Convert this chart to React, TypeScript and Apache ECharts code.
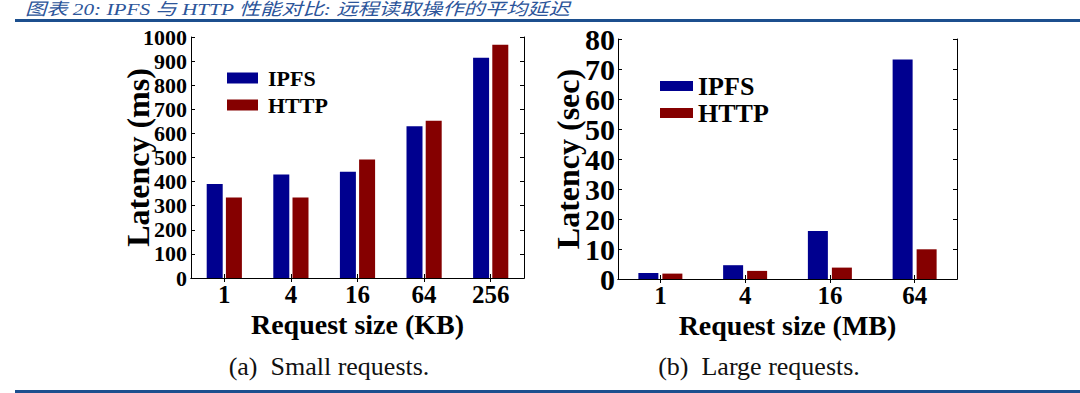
import React, { useEffect, useRef } from "react";
import * as echarts from "echarts";

const categoriesKB = ["1", "4", "16", "64", "256"];
const ipfsSmall = [390, 429, 441, 630, 914];
const httpSmall = [334, 334, 492, 652, 968];

const categoriesMB = ["1", "4", "16", "64"];
const ipfsLarge = [2.0, 4.6, 16.0, 73.2];
const httpLarge = [1.8, 2.7, 3.8, 9.9];

const seriesNames = ["IPFS", "HTTP"];
const titleText = "图表 20: IPFS 与 HTTP 性能对比: 远程读取操作的平均延迟";
const captionA = "(a)  Small requests.";
const captionB = "(b)  Large requests.";

const SERIF = "'Liberation Serif', 'DejaVu Serif', serif";
const IPFS_COLOR = "#00008f";
const HTTP_COLOR = "#850000";
const BLUE_LINE = "#1c4f8e";

function mainX(gridIndex: number, data: string[], name: string) {
  return {
    gridIndex,
    type: "category",
    data,
    position: "bottom",
    axisLine: { show: true, lineStyle: { color: "#000", width: 1 } },
    axisTick: { show: true, inside: true, alignWithLabel: true, length: 4, lineStyle: { color: "#000" } },
    axisLabel: { fontSize: 25, lineHeight: 20, fontWeight: "bold", fontFamily: SERIF, color: "#000", margin: 6 },
    splitLine: { show: false },
    name,
    nameLocation: "middle",
    nameGap: 35,
    nameMoveOverlap: false,
    nameTextStyle: { fontSize: 28, lineHeight: 22, fontWeight: "bold", fontFamily: SERIF, color: "#000" },
  };
}

function topX(gridIndex: number, data: string[]) {
  return {
    gridIndex,
    type: "category",
    data,
    position: "top",
    axisLine: { show: true, lineStyle: { color: "#000", width: 1 } },
    axisTick: { show: true, inside: true, alignWithLabel: true, length: 4, lineStyle: { color: "#000" } },
    axisLabel: { show: false },
    splitLine: { show: false },
  };
}

function mainY(gridIndex: number, max: number, interval: number, name: string, fontSize: number, margin: number, nameGap: number) {
  return {
    gridIndex,
    type: "value",
    position: "left",
    min: 0,
    max,
    interval,
    axisLine: { show: true, lineStyle: { color: "#000", width: 1 } },
    axisTick: { show: true, inside: true, length: 4, lineStyle: { color: "#000" } },
    axisLabel: {
      fontSize,
      fontWeight: "bold",
      fontFamily: SERIF,
      color: "#000",
      margin,
      formatter: (v: number) => String(v),
    },
    splitLine: { show: false },
    name,
    nameLocation: "middle",
    nameGap,
    nameMoveOverlap: false,
    nameTextStyle: { fontSize: 32, lineHeight: 27, fontWeight: "bold", fontFamily: SERIF, color: "#000" },
  };
}

function rightY(gridIndex: number, max: number, interval: number) {
  return {
    gridIndex,
    type: "value",
    position: "right",
    min: 0,
    max,
    interval,
    axisLine: { show: true, lineStyle: { color: "#000", width: 1 } },
    axisTick: { show: true, inside: true, length: 4, lineStyle: { color: "#000" } },
    axisLabel: { show: false },
    splitLine: { show: false },
  };
}

export default function App() {
  const ref = useRef<HTMLDivElement>(null);

  useEffect(() => {
    if (!ref.current) return;
    const chart = echarts.init(ref.current, null, { renderer: "svg" });
    const option = {
      animation: false,
      backgroundColor: "#fff",
      grid: [
        { left: 191, top: 37, width: 333, height: 241 },
        { left: 618, top: 39, width: 339, height: 240 },
      ],
      xAxis: [
        mainX(0, categoriesKB, "Request size (KB)"),
        topX(0, categoriesKB),
        mainX(1, categoriesMB, "Request size (MB)"),
        topX(1, categoriesMB),
      ],
      yAxis: [
        mainY(0, 1000, 100, "Latency (ms)", 22, 4, 40),
        rightY(0, 1000, 100),
        mainY(1, 80, 10, "Latency (sec)", 30, 3, 37),
        rightY(1, 80, 10),
      ],
      legend: [
        {
          data: seriesNames,
          orient: "vertical",
          left: 222,
          top: 62,
          itemWidth: 31,
          itemHeight: 11,
          itemGap: 5,
          icon: "rect",
          selectedMode: false,
          textStyle: { fontSize: 22, lineHeight: 22, fontWeight: "bold", fontFamily: SERIF, color: "#000", padding: [0, 0, 0, 5] },
        },
        {
          data: seriesNames,
          orient: "vertical",
          left: 655,
          top: 68,
          itemWidth: 33,
          itemHeight: 10,
          itemGap: 1,
          icon: "rect",
          selectedMode: false,
          textStyle: { fontSize: 26, lineHeight: 26, fontWeight: "bold", fontFamily: SERIF, color: "#000" },
        },
      ],
      series: [
        { name: seriesNames[0], type: "bar", xAxisIndex: 0, yAxisIndex: 0, data: ipfsSmall, barWidth: 16, barGap: "20%", itemStyle: { color: IPFS_COLOR } },
        { name: seriesNames[1], type: "bar", xAxisIndex: 0, yAxisIndex: 0, data: httpSmall, barWidth: 16, barGap: "20%", itemStyle: { color: HTTP_COLOR } },
        { name: seriesNames[0], type: "bar", xAxisIndex: 2, yAxisIndex: 2, data: ipfsLarge, barWidth: 20, barGap: "20%", itemStyle: { color: IPFS_COLOR } },
        { name: seriesNames[1], type: "bar", xAxisIndex: 2, yAxisIndex: 2, data: httpLarge, barWidth: 20, barGap: "20%", itemStyle: { color: HTTP_COLOR } },
      ],
      graphic: [
        {
          type: "text",
          x: 25,
          y: 1,
          scaleX: 1.25,
          style: {
            text: titleText,
            fontSize: 17,
            fontStyle: "italic",
            fontFamily: "'Liberation Serif', 'Noto Sans CJK SC', serif",
            fill: "#2c559a",
            verticalAlign: "top",
          },
        },
        { type: "rect", shape: { x: 15, y: 19, width: 1065, height: 3 }, style: { fill: BLUE_LINE } },
        { type: "rect", shape: { x: 15, y: 390, width: 1065, height: 3 }, style: { fill: BLUE_LINE } },
        {
          type: "text",
          x: 329,
          y: 366,
          style: { text: captionA, fontSize: 26, fontFamily: SERIF, fill: "#111", align: "center", verticalAlign: "middle" },
        },
        {
          type: "text",
          x: 759,
          y: 366,
          style: { text: captionB, fontSize: 26, fontFamily: SERIF, fill: "#111", align: "center", verticalAlign: "middle" },
        },
      ],
    };
    chart.setOption(option as any);
    return () => chart.dispose();
  }, []);

  return <div ref={ref} style={{ position: "fixed", left: 0, top: 0, width: 1080, height: 393 }} />;
}
